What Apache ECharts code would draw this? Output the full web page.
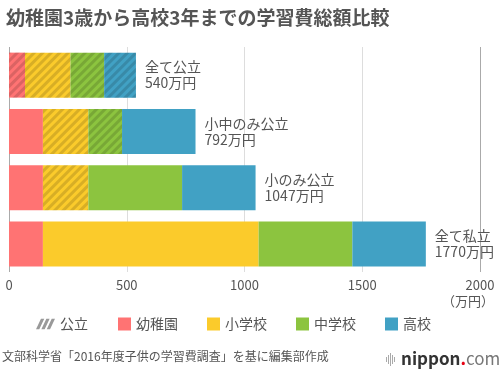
<!DOCTYPE html>
<html><head><meta charset="utf-8">
<script src="https://cdn.jsdelivr.net/npm/echarts@6/dist/echarts.min.js"></script>
<style>html,body{margin:0;padding:0;background:#fff}#c{width:500px;height:383px}</style>
</head><body><div id="c"></div>
<script>
var categories = ['全て公立', '小中のみ公立', '小のみ公立', '全て私立'];
var kindergarten = [68, 144, 144, 144];
var elementary = [193, 193, 193, 916];
var middle = [143, 143, 398, 398];
var high = [135, 312, 312, 312];
var totals = [540, 792, 1047, 1770];
var publicKindergarten = [1, 0, 0, 0];
var publicElementary = [1, 1, 1, 0];
var publicMiddle = [1, 1, 0, 0];
var publicHigh = [1, 0, 0, 0];
var xTicks = [0, 500, 1000, 1500, 2000];
var legendNames = ['公立', '幼稚園', '小学校', '中学校', '高校'];

var FONT = '"Noto Sans CJK JP", sans-serif';
var colors = {k: '#FF7373', e: '#FBCB2B', m: '#8CC43F', h: '#41A1C4'};
var decal = {symbol: 'rect', symbolSize: 1, dashArrayX: [1, 0], dashArrayY: [3, 3], rotation: -Math.PI / 4, color: 'rgba(0,0,0,0.14)'};

function items(vals, flags) {
  return vals.map(function (v, i) {
    return flags[i] ? {value: v, itemStyle: {decal: decal}} : {value: v};
  });
}

var chart = echarts.init(document.getElementById('c'), null, {renderer: 'canvas'});
var hatchIcon = 'path://M0 13 L4 13 L10 0 L6 0 Z M6.5 13 L10.5 13 L16.5 0 L12.5 0 Z M13 13 L17 13 L23 0 L19 0 Z';

chart.setOption({
  animation: false,
  textStyle: {fontFamily: FONT},
  title: {
    text: '幼稚園3歳から高校3年までの学習費総額比較',
    left: 1, top: 3,
    textStyle: {fontSize: 19, fontWeight: 'bold', color: '#555', fontFamily: FONT}
  },
  grid: {left: 9, right: 20, top: 47, bottom: 111, containLabel: false},
  xAxis: {
    type: 'value', min: xTicks[0], max: xTicks[xTicks.length - 1], interval: 500,
    axisLine: {show: false}, axisTick: {show: false},
    axisLabel: {color: '#555', fontSize: 13, margin: 7, fontFamily: FONT, formatter: function (v) { return String(v); }},
    splitLine: {show: true, lineStyle: {color: ['#aaa', '#ddd', '#ddd', '#ddd', '#aaa'], width: 1}}
  },
  yAxis: {
    type: 'category', data: categories, inverse: true,
    axisLine: {show: false}, axisTick: {show: false}, axisLabel: {show: false}
  },
  legend: [{
    data: [{name: legendNames[0], icon: hatchIcon}],
    left: 31, top: 312, itemWidth: 19, itemHeight: 13, itemGap: 29,
    textStyle: {color: '#555', fontSize: 14, fontFamily: FONT},
    selectedMode: false
  }, {
    data: legendNames.slice(1).map(function (n) { return {name: n, icon: 'rect'}; }),
    left: 113, top: 312, itemWidth: 13, itemHeight: 13, itemGap: 29,
    textStyle: {color: '#555', fontSize: 14, fontFamily: FONT},
    selectedMode: false
  }],
  series: [
    {name: legendNames[0], type: 'bar', stack: 'total', data: [], itemStyle: {color: '#999'}},
    {name: legendNames[1], type: 'bar', stack: 'total', barWidth: '80%', data: items(kindergarten, publicKindergarten), itemStyle: {color: colors.k}},
    {name: legendNames[2], type: 'bar', stack: 'total', data: items(elementary, publicElementary), itemStyle: {color: colors.e}},
    {name: legendNames[3], type: 'bar', stack: 'total', data: items(middle, publicMiddle), itemStyle: {color: colors.m}},
    {name: legendNames[4], type: 'bar', stack: 'total', data: items(high, publicHigh), itemStyle: {color: colors.h},
      label: {
        show: true, position: 'right', distance: 9, color: '#555', fontSize: 14, lineHeight: 16, fontFamily: FONT,
        formatter: function (p) { return categories[p.dataIndex] + '\n' + totals[p.dataIndex] + '万円'; }
      }}
  ],
  graphic: [
    {type: 'text', right: 6, top: 295, style: {text: '（万円）', fill: '#555', fontSize: 13, fontFamily: FONT}},
    {type: 'text', left: 2, top: 350, style: {text: '文部科学省「2016年度子供の学習費調査」を基に編集部作成', fill: '#555', fontSize: 12, fontFamily: FONT}},
    {type: 'group', left: 386, top: 350, children: [
      {type: 'rect', shape: {x: 0, y: 5, width: 1, height: 5}, style: {fill: '#aaa'}},
      {type: 'rect', shape: {x: 2, y: 3, width: 1, height: 9}, style: {fill: '#aaa'}},
      {type: 'rect', shape: {x: 4, y: 1, width: 1, height: 13}, style: {fill: '#aaa'}},
      {type: 'rect', shape: {x: 6, y: 3, width: 1, height: 9}, style: {fill: '#aaa'}},
      {type: 'rect', shape: {x: 8, y: 5, width: 1, height: 5}, style: {fill: '#aaa'}},
      {type: 'text', x: 15, y: -2, style: {
        text: '{a|nippon}{b|.}{c|com}',
        rich: {
          a: {fontSize: 17, fontWeight: 'bold', fill: '#333', fontFamily: FONT},
          b: {fontSize: 17, fontWeight: 'bold', fill: '#e60012', fontFamily: FONT},
          c: {fontSize: 17, fill: '#777', fontFamily: FONT}
        }
      }}
    ]}
  ]
});
</script></body></html>
